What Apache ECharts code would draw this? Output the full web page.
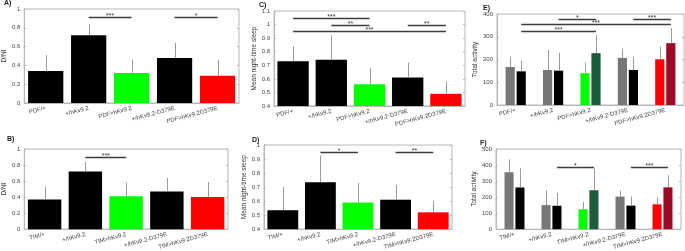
<!DOCTYPE html>
<html>
<head>
<meta charset="utf-8">
<script src="https://cdn.jsdelivr.net/npm/echarts@6/dist/echarts.min.js"></script>
<style>
html, body { margin: 0; padding: 0; background: #fff; }
#chart { width: 685px; height: 251px; }
</style>
</head>
<body>
<div id="chart"></div>
<script>
// categories
var catsPdf = ['PDF/+', '+/hKv9.2', 'PDF>hKv9.2', '+/hKv9.2-D379E', 'PDF>hKv9.2D379E'];
var catsTim = ['TIM/+', '+/hKv9.2', 'TIM>hKv9.2', '+/hKv9.2-D379E', 'TIM>hKv9.2D379E'];

// A) D/NI, PDF driver
var dniPdf = [0.34, 0.72, 0.32, 0.48, 0.29];
var dniPdfErr = [0.17, 0.12, 0.14, 0.16, 0.17];
// B) D/NI, TIM driver
var dniTim = [0.37, 0.72, 0.41, 0.47, 0.40];
var dniTimErr = [0.16, 0.12, 0.17, 0.17, 0.19];
// C) mean night-time sleep, PDF
var sleepPdf = [0.73, 0.74, 0.56, 0.61, 0.49];
var sleepPdfErr = [0.11, 0.18, 0.12, 0.11, 0.09];
// D) mean night-time sleep, TIM
var sleepTim = [0.535, 0.735, 0.59, 0.61, 0.52];
var sleepTimErr = [0.165, 0.19, 0.14, 0.105, 0.08];
// E) total activity, PDF (two bars per genotype)
var actPdf1 = [167, 154, 140, 207, 201];
var actPdf1Err = [43, 88, 46, 38, 56];
var actPdf2 = [148, 151, 228, 154, 272];
var actPdf2Err = [46, 79, 80, 56, 66];
// F) total activity, TIM
var actTim1 = [355, 150, 124, 203, 155];
var actTim1Err = [80, 91, 46, 38, 42];
var actTim2 = [260, 146, 243, 147, 261];
var actTim2Err = [120, 79, 137, 56, 76];

// significance: [fromCat, fromBar, toCat, toBar, level, stars]
var sigA = [[1, 0, 2, 0, 0.92, '***'], [3, 0, 4, 0, 0.92, '*']];
var sigB = [[1, 0, 2, 0, 0.90, '***']];
var sigC = [[0, 0, 2, 0, 1.05, '***'], [1, 0, 2, 0, 1.0, '**'], [3, 0, 4, 0, 1.0, '**'], [0, 0, 4, 0, 0.95, '***']];
var sigD = [[1, 0, 2, 0, 0.95, '*'], [3, 0, 4, 0, 0.95, '**']];
var sigE = [[1, 1, 2, 1, 380, '*'], [3, 1, 4, 1, 380, '***'], [0, 1, 4, 1, 356, '***'], [0, 1, 2, 1, 327, '***']];
var sigF = [[1, 1, 2, 1, 390, '*'], [3, 1, 4, 1, 390, '***']];

// colours
var colSingle = ['#000000', '#000000', '#00ff00', '#000000', '#ff0000'];
var colLeft = ['#777777', '#777777', '#00ff00', '#777777', '#ff0000'];
var colRight = ['#000000', '#000000', '#1d5c3b', '#000000', '#9b0b26'];

var FONT = 'Liberation Sans';
var AXIS_COL = '#b8b8b8';
var TXT_COL = '#444';

var panels = [
    { label: 'A)', lpos: [4, 0], box: { left: 19, top: 9, width: 220, height: 94 }, cats: catsPdf,
      min: 0, max: 1, step: 0.2, name: 'D/NI', gap: 0.18, sig: sigA,
      bars: [{ v: dniPdf, e: dniPdfErr, c: colSingle }] },
    { label: 'C)', lpos: [259, 2], box: { left: 274, top: 11, width: 191, height: 95 }, cats: catsPdf,
      min: 0.4, max: 1.1, step: 0.1, name: 'Mean night-time sleep', gap: 0.18, sig: sigC,
      bars: [{ v: sleepPdf, e: sleepPdfErr, c: colSingle }] },
    { label: 'E)', lpos: [483, 5], box: { left: 497, top: 14, width: 187, height: 91 }, cats: catsPdf,
      min: 0, max: 400, step: 100, name: 'Total activity', gap: 0.46, sig: sigE,
      bars: [{ v: actPdf1, e: actPdf1Err, c: colLeft }, { v: actPdf2, e: actPdf2Err, c: colRight }] },
    { label: 'B)', lpos: [7, 136], box: { left: 22, top: 149, width: 206, height: 81 }, cats: catsTim,
      min: 0, max: 1, step: 0.2, name: 'D/NI', gap: 0.18, sig: sigB,
      bars: [{ v: dniTim, e: dniTimErr, c: colSingle }] },
    { label: 'D)', lpos: [252, 137], box: { left: 264, top: 145, width: 188, height: 86 }, cats: catsTim,
      min: 0.4, max: 1, step: 0.1, name: 'Mean night-time sleep', gap: 0.18, sig: sigD,
      bars: [{ v: sleepTim, e: sleepTimErr, c: colSingle }] },
    { label: 'F)', lpos: [480, 140], box: { left: 496, top: 149, width: 185, height: 82 }, cats: catsTim,
      min: 0, max: 500, step: 100, name: 'Total activity', gap: 0.46, sig: sigF,
      bars: [{ v: actTim1, e: actTim1Err, c: colLeft }, { v: actTim2, e: actTim2Err, c: colRight }] }
];

var BAR_GAP = 0.2;

function barOffset(band, n, s, catGap) {
    if (n === 1) return 0;
    var w = band * (1 - catGap) / (n + (n - 1) * BAR_GAP);
    return (s - (n - 1) / 2) * w * (1 + BAR_GAP);
}

var option = { animation: false, title: [], grid: [], xAxis: [], yAxis: [], series: [] };

panels.forEach(function (p, i) {
    var n = p.bars.length;
    option.title.push({
        text: p.label, left: p.lpos[0], top: p.lpos[1], padding: 0,
        textStyle: { fontSize: 7, fontWeight: 'bold', color: '#222', fontFamily: FONT }
    });
    option.grid.push(Object.assign({ show: true, borderColor: AXIS_COL, borderWidth: 1 }, p.box));

    option.xAxis.push({
        type: 'category', gridIndex: i, data: p.cats,
        axisLine: { lineStyle: { color: AXIS_COL } },
        axisTick: { inside: true, alignWithLabel: true, length: 2, lineStyle: { color: AXIS_COL } },
        axisLabel: { rotate: 15, margin: 5, fontSize: 6, color: TXT_COL, fontFamily: FONT, interval: 0 }
    });
    option.xAxis.push({
        type: 'category', gridIndex: i, data: p.cats, position: 'top',
        axisLine: { show: false }, axisLabel: { show: false },
        axisTick: { inside: true, alignWithLabel: true, length: 2, lineStyle: { color: AXIS_COL } }
    });
    option.yAxis.push({
        type: 'value', gridIndex: i, min: p.min, max: p.max, interval: p.step,
        name: p.name, nameLocation: 'middle', nameGap: 11,
        nameTextStyle: { fontSize: 6.5, color: '#333', fontFamily: FONT },
        splitLine: { show: false },
        axisLine: { show: true, lineStyle: { color: AXIS_COL } },
        axisTick: { show: true, inside: true, length: 2, lineStyle: { color: AXIS_COL } },
        axisLabel: { fontSize: 6, margin: 4, color: TXT_COL, fontFamily: FONT }
    });
    option.yAxis.push({
        type: 'value', gridIndex: i, min: p.min, max: p.max, interval: p.step, position: 'right',
        splitLine: { show: false }, axisLine: { show: false }, axisLabel: { show: false },
        axisTick: { show: true, inside: true, length: 2, lineStyle: { color: AXIS_COL } }
    });

    var xi = 2 * i, yi = 2 * i;
    var errData = [];
    p.bars.forEach(function (b, s) {
        option.series.push({
            type: 'bar', xAxisIndex: xi, yAxisIndex: yi, silent: true,
            barCategoryGap: (p.gap * 100) + '%', barGap: (BAR_GAP * 100) + '%',
            data: b.v.map(function (v, k) { return { value: v, itemStyle: { color: b.c[k] } }; })
        });
        b.v.forEach(function (v, k) { errData.push([k, v, b.e[k], s]); });
    });

    // error bars (upper half only, as in the figure)
    option.series.push({
        type: 'custom', xAxisIndex: xi, yAxisIndex: yi, silent: true, z: 3,
        encode: { x: 0, y: 1 },
        data: errData,
        renderItem: function (params, api) {
            var k = api.value(0), v = api.value(1), e = api.value(2), s = api.value(3);
            var band = api.size([1, 0])[0];
            var off = barOffset(band, n, s, p.gap);
            var a = api.coord([k, v]), b = api.coord([k, v + e]);
            var x = Math.round(a[0] + off) + 0.5;
            return { type: 'line', shape: { x1: x, y1: a[1], x2: x, y2: b[1] },
                     style: { stroke: '#9a9a9a', lineWidth: 1 } };
        }
    });

    // significance brackets
    option.series.push({
        type: 'custom', xAxisIndex: xi, yAxisIndex: yi, silent: true, z: 4,
        encode: { x: 0, y: 1 },
        data: p.sig.map(function (g) { return [g[0], g[4]]; }),
        renderItem: function (params, api) {
            var g = p.sig[params.dataIndex];
            var band = api.size([1, 0])[0];
            var a = api.coord([g[0], g[4]]), b = api.coord([g[2], g[4]]);
            var x1 = a[0] + barOffset(band, n, g[1], p.gap);
            var x2 = b[0] + barOffset(band, n, g[3], p.gap);
            var y = Math.round(a[1]) + 0.5;
            return { type: 'group', children: [
                { type: 'line', shape: { x1: x1, y1: y, x2: x2, y2: y },
                  style: { stroke: '#3c3c3c', lineWidth: 1.5 } },
                { type: 'text', style: { text: g[5], x: (x1 + x2) / 2, y: y - 1, align: 'center',
                  verticalAlign: 'middle', fontSize: 7, fill: '#333', fontFamily: FONT } }
            ] };
        }
    });
});

var chart = echarts.init(document.getElementById('chart'));
chart.setOption(option);
</script>
</body>
</html>
